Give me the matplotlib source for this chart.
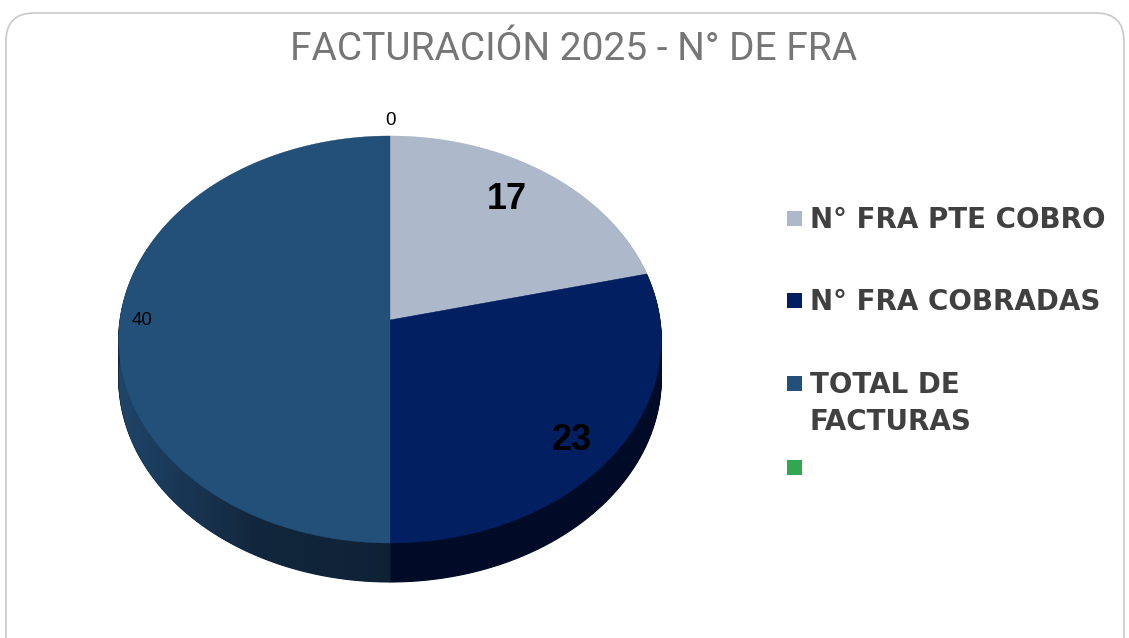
import numpy as np
import matplotlib
matplotlib.use("Agg")
import matplotlib.pyplot as plt
from matplotlib.patches import FancyBboxPatch, Rectangle
from matplotlib.transforms import Transform, Affine2D
from matplotlib.path import Path
from matplotlib.colors import LinearSegmentedColormap
import textwrap

# ---------------- data ----------------
categories = ["N° FRA PTE COBRO", "N° FRA COBRADAS", "TOTAL DE FACTURAS", ""]
values = [17, 23, 40, 0]
title = "FACTURACIÓN 2025 - N° DE FRA"

# ---------------- styles ----------------
top_colors = ["#adb9ca", "#022061", "#225079", "#31a84f"]
side_colors = ["#6f7a88", "#000b28", "#12273d", "#1f6b33"]
label_sizes = [26, 26, 13.5, 13.5]
label_weights = ["bold", "bold", "normal", "normal"]
label_rx = [0.74, 0.81, 0.92, 0.0]
label_ry = [0.81, 0.91, 1.0, 1.09]

W, H = 1129, 638
fig = plt.figure(figsize=(W / 100, H / 100), dpi=100)
fig.patch.set_facecolor("white")


def fx(px):
    return px / W


def fy(py):
    return 1 - py / H


# rounded border
border = FancyBboxPatch((0.06, -0.4), 11.18, 6.25 + 0.4,
                        boxstyle="round,pad=0,rounding_size=0.28",
                        transform=fig.dpi_scale_trans, facecolor="none",
                        edgecolor="#c8c8c8", linewidth=1.2, zorder=-1)
fig.patches.append(border)


# ---------------- perspective view of a flat pie ----------------
class Perspective(Transform):
    """Maps unit-disk pie coordinates (u, v) to pixel coordinates (Y up)."""
    input_dims = 2
    output_dims = 2

    def __init__(self, x0, s, a, b, c):
        super().__init__()
        self.x0, self.s, self.a, self.b, self.c = x0, s, a, b, c

    def transform_non_affine(self, values):
        values = np.asarray(values, dtype=float).reshape(-1, 2)
        u, v = values[:, 0], values[:, 1]
        den = 1 + self.c * v
        return np.column_stack([self.x0 + self.s * u / den,
                                (self.a * v + self.b) / den])

    def transform_path_non_affine(self, path):
        k = 1000.0
        polys = path.to_polygons(transform=Affine2D().scale(k),
                                 closed_only=False)
        parts = [Path(self.transform_non_affine(np.asarray(p) / k), closed=True)
                 for p in polys if len(p) > 1]
        if not parts:
            return Path(np.zeros((1, 2)))
        return Path.make_compound_path(*parts)


persp = Perspective(x0=390.0, s=270.0, a=232.1, b=318.0, c=0.0958)
to_fig = Affine2D().scale(1.0 / W, 1.0 / H) + fig.transFigure

ax = fig.add_axes([0, 0, 1, 1])
ax.set_zorder(2)
ax.patch.set_visible(False)

depth_px = 39
bottom_wedges = None
for k in range(depth_px, 0, -1):
    ws, _ = ax.pie(values, colors=side_colors, startangle=90,
                   counterclock=False, radius=1,
                   wedgeprops=dict(linewidth=0.8))
    for w, c, val in zip(ws, side_colors, values):
        w.set_edgecolor(c)
        w.set_linewidth(0.8 if val > 0 else 0)
        w.set_transform(persp + Affine2D().translate(0, -k) + to_fig)
        w.set_clip_on(False)
        w.set_zorder(1)
    if bottom_wedges is None:
        bottom_wedges = ws

wedges, _ = ax.pie(values, colors=top_colors, startangle=90,
                   counterclock=False, radius=1,
                   wedgeprops=dict(linewidth=0.3))
for w, c, val in zip(wedges, top_colors, values):
    w.set_edgecolor(c)
    w.set_linewidth(0.3 if val > 0 else 0)
    w.set_transform(persp + to_fig)
    w.set_clip_on(False)
    w.set_zorder(3)

# light-to-dark shading on the left wall of the largest slice
shade = LinearSegmentedColormap.from_list(
    "shade", [(0.0, "#1f4569"), (0.5, "#12273d"), (1.0, "#0f2135")])
grad = np.linspace(0, 1, 256)[None, :]
img = ax.imshow(grad, cmap=shade, aspect="auto", interpolation="bilinear",
                extent=[fx(118), fx(391), fy(590), fy(330)], zorder=2)
img.set_clip_path(bottom_wedges[2])

ax.set_aspect("auto")
ax.set_xlim(0, 1)
ax.set_ylim(0, 1)
ax.axis("off")

# data labels
total = float(sum(values))
cum = np.cumsum([0] + values)
for i, v in enumerate(values):
    mid = (cum[i] + cum[i + 1]) / 2 / total * 2 * np.pi
    u = label_rx[i] * np.sin(mid)
    vv = label_ry[i] * np.cos(mid)
    ax.text(u, vv, str(v), ha="center", va="center",
            fontsize=label_sizes[i], fontweight=label_weights[i],
            family=["Liberation Sans", "DejaVu Sans"], color="black",
            transform=persp + to_fig, clip_on=False, zorder=5)

# ---------------- title ----------------
fig.text(fx(574), fy(49), title, ha="center", va="center", fontsize=28,
         color="#767676", family=["Roboto", "Liberation Sans"])

# ---------------- legend ----------------
row_centers = [218, 300, 383, 467]
sq = 15
for name, col, yc in zip(categories, top_colors, row_centers):
    fig.patches.append(Rectangle((fx(787), fy(yc + sq / 2)), sq / W, sq / H,
                                 transform=fig.transFigure, facecolor=col,
                                 edgecolor="none", zorder=3))
    lines = textwrap.fill(name, 16).split("\n") if name else []
    for j, line in enumerate(lines):
        fig.text(fx(810), fy(yc + 10 + j * 37), line, ha="left", va="baseline",
                 fontsize=20, fontweight="bold", color="#404040",
                 family=["DejaVu Sans"])

fig.savefig("out.png", dpi=100, facecolor="white")
